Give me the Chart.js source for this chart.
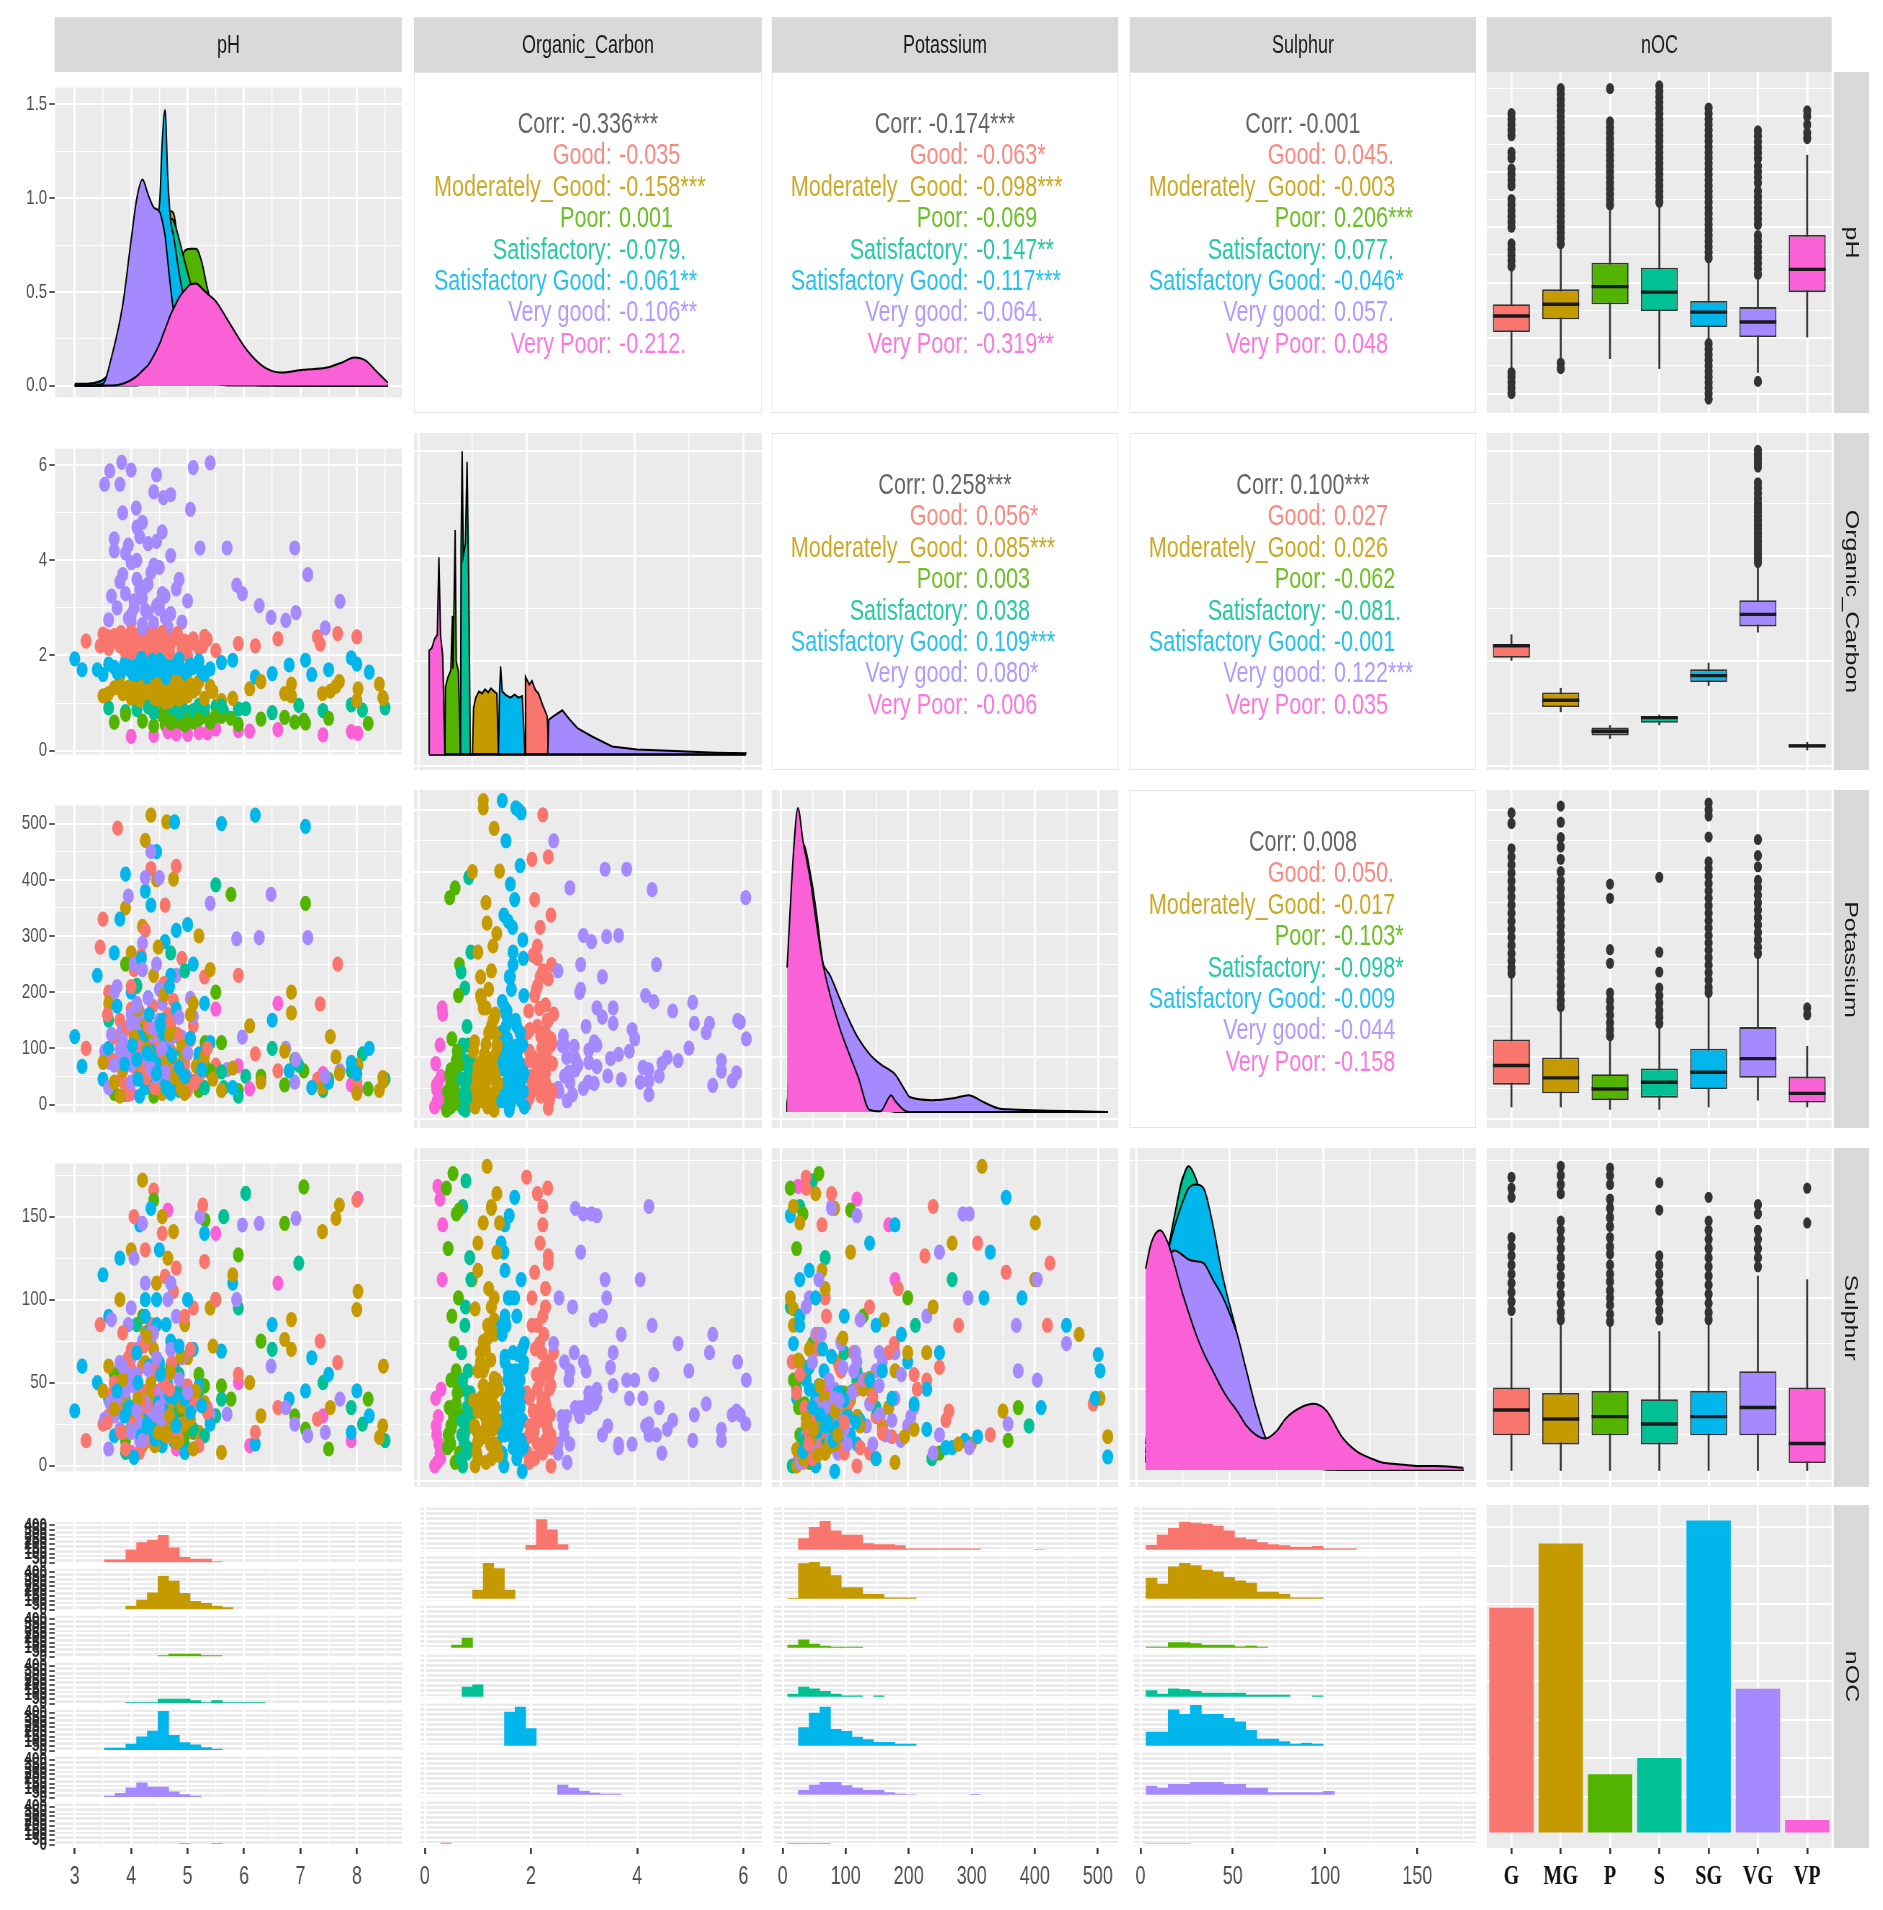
<!DOCTYPE html>
<html>
<head>
<meta charset="utf-8">
<title>Soil nutrients pairs plot</title>
<script src="https://cdn.jsdelivr.net/npm/chart.js@4.4.1/dist/chart.umd.min.js"></script>
<style>
  html, body { margin: 0; padding: 0; background: #fff; width: 1883px; height: 1910px; overflow: hidden; }
  #page { position: absolute; left: 0; top: 0; width: 2616px; height: 1910px; transform: scaleX(0.72); transform-origin: 0 0; font-family: "Liberation Sans", Arial, sans-serif; }
  .cell { position: absolute; }
  .strip { background: #D9D9D9; color: #1A1A1A; font-size: 25px; display: flex; align-items: center; justify-content: center; }
  .strip span { white-space: nowrap; display: inline-block; }
  .rstrip span { transform: rotate(90deg); }
  .corr { background: #fff; border: 1.5px solid #E4E4E4; box-sizing: border-box; font-size: 30px; }
  .cline { position: absolute; left: 0; width: 100%; height: 32px; line-height: 32px; white-space: pre; }
  .cline span { position: absolute; top: 0; }
</style>
</head>
<body>
<div id="page"></div>
<script>
const GROUPS = ['Good', 'Moderately_Good', 'Poor', 'Satisfactory', 'Satisfactory Good', 'Very good', 'Very Poor'];
const GROUP_ABBR = ['G', 'MG', 'P', 'S', 'SG', 'VG', 'VP'];
const COLORS = ['#F8766D', '#C49A00', '#53B400', '#00C094', '#00B6EB', '#A58AFF', '#FB61D7'];
const VARS = ['pH', 'Organic_Carbon', 'Potassium', 'Sulphur', 'nOC'];

// correlation text: overall first, then one per group
const CORR_PH_OC = ['-0.336***', '-0.035', '-0.158***', '0.001', '-0.079.', '-0.061**', '-0.106**', '-0.212.'];
const CORR_PH_K = ['-0.174***', '-0.063*', '-0.098***', '-0.069', '-0.147**', '-0.117***', '-0.064.', '-0.319**'];
const CORR_PH_S = ['-0.001', '0.045.', '-0.003', '0.206***', '0.077.', '-0.046*', '0.057.', '0.048'];
const CORR_OC_K = ['0.258***', '0.056*', '0.085***', '0.003', '0.038', '0.109***', '0.080*', '-0.006'];
const CORR_OC_S = ['0.100***', '0.027', '0.026', '-0.062', '-0.081.', '-0.001', '0.122***', '0.035'];
const CORR_K_S = ['0.008', '0.050.', '-0.017', '-0.103*', '-0.098*', '-0.009', '-0.044', '-0.158'];

// samples: [pH, Organic_Carbon, Potassium, Sulphur]
const OBS_G = [
  [4.4,2.3,88,40],[4.1,2.1,60,28],[4.6,2.45,130,52],[3.8,2.2,150,35],[4.3,2.35,75,22],[4.5,2.05,110,45],[4.2,2.4,95,60],[3.6,2.15,200,30],[4.7,2.25,55,18],[4.0,2.5,170,70],
  [3.76,2.3,492,42],[4.35,2.1,420,85],[3.5,2.45,330,25],[4.9,2.2,260,33],[5.1,2.35,140,95],[4.4,2.0,40,166],[5.3,2.4,227,123],[5.9,2.25,230,55],[3.2,2.3,100,15],[4.6,2.15,355,114],
  [4.8,2.4,424,119],[4.25,2.25,310,130],[5.5,2.1,70,100],[6.6,2.35,60,35],[7.3,2.39,45,28],[7.66,2.46,250,62],[7.35,2.24,179,75],[8.0,2.39,40,160],[6.2,2.2,90,20],[3.9,2.05,35,10],
  [4.55,2.3,65,140],[4.15,2.45,120,8],[5.0,2.0,25,48],[3.45,2.2,280,85],[4.75,2.35,185,105],[3.95,2.4,18,65],[5.2,2.15,50,12],[4.05,2.3,240,150],[5.27,2.2,80,157],
  [4.45,2.12,100,38],[4.2,2.28,70,45],[4.65,2.38,160,30],[3.7,2.42,120,50],[4.9,2.08,45,25],[4.0,2.18,210,58],[4.55,2.48,90,20],[3.85,2.32,60,80],[4.3,2.02,140,15],[5.05,2.28,115,70],
  [4.48,2.22,82,33],[4.12,2.36,105,41],[4.62,2.14,64,27],[3.92,2.26,135,55],[4.28,2.44,48,36],[4.72,2.32,92,62],[4.38,2.04,175,24],[3.68,2.34,78,44],[4.82,2.46,125,18],[4.22,2.16,58,72],
  [5.12,2.26,38,40],[4.02,2.06,95,30],[4.58,2.2,215,50],[3.58,2.4,160,26],[4.42,2.42,30,58],[4.95,2.3,72,90],[4.18,2.12,265,38],[3.82,2.48,44,20],[4.68,2.06,145,46],[5.35,2.34,100,32]
];
const OBS_MG = [
  [4.6,1.25,67,34],[4.3,1.1,45,22],[4.9,1.4,100,48],[4.5,1.3,80,30],[4.7,1.05,35,18],[4.4,1.45,120,55],[4.8,1.2,60,40],[4.2,1.35,150,12],[5.0,1.15,90,65],[4.1,1.3,210,28],
  [4.63,1.2,503,45],[4.25,1.4,470,80],[4.45,1.0,400,110],[3.9,1.25,350,38],[5.2,1.45,300,20],[4.2,1.27,317,172],[4.0,1.1,270,130],[5.4,1.35,240,95],[3.6,1.2,180,60],[4.75,1.5,401,141],
  [5.6,1.05,25,8],[6.1,1.3,140,50],[6.84,1.15,200,70],[6.84,1.4,163,88],[7.53,1.25,121,35],[8.47,1.1,41,60],[7.69,1.45,55,157],[7.39,1.2,30,141],[7.63,1.35,85,149],[8.02,1.3,70,105],
  [8.0,1.05,20,94],[8.46,1.12,48,24],[8.4,1.4,25,17],[6.72,1.2,95,76],[6.3,1.45,40,30],[5.8,1.1,65,115],[4.35,1.2,515,24],[3.8,1.4,15,100],[4.55,1.35,20,150],[5.1,1.25,180,10],
  [4.65,1.45,110,125],[3.5,1.15,75,45],
  [4.5,1.18,55,26],[4.7,1.32,95,38],[4.35,1.48,130,50],[4.85,1.08,70,15],[4.25,1.22,40,62],[5.05,1.38,160,28],[4.6,1.02,110,44],[3.95,1.33,85,20],[4.4,1.15,230,70],[4.95,1.28,20,85],
  [4.52,1.26,62,31],[4.78,1.12,48,22],[4.32,1.36,88,42],[4.62,1.44,75,18],[4.9,1.22,105,36],[4.15,1.06,52,28],[4.7,1.4,140,56],[4.42,1.1,35,12],[5.15,1.3,68,45],[4.05,1.46,120,33],
  [4.58,1.16,195,24],[4.88,1.34,28,66],[4.28,1.28,98,78],[4.8,1.48,58,14],[5.3,1.1,85,38],[3.85,1.2,62,52],[4.68,1.04,125,30],[4.48,1.38,280,20],[5.45,1.24,45,72],[4.12,1.42,170,40],
  [4.95,1.14,90,25],[3.7,1.32,40,34]
];
const OBS_P = [
  [4.9,0.65,49,35],[4.6,0.55,30,25],[5.3,0.72,70,48],[5.1,0.6,40,20],[4.7,0.7,95,60],[5.77,0.68,374,40],[7.09,0.58,358,22],[7.06,0.64,60,168],[5.31,0.75,110,148],[5.9,0.55,25,127],
  [6.72,0.7,35,146],[4.2,0.62,130,90],[3.7,0.6,20,55],[6.3,0.66,50,75],[8.2,0.57,28,40],[5.5,0.74,200,100],[4.4,0.52,15,160],[7.5,0.68,45,10],[3.9,0.76,250,15],[6.9,0.6,80,30],
  [4.85,0.62,55,30],[5.05,0.7,38,42],[4.7,0.58,72,22],[5.2,0.66,25,55],[4.55,0.74,88,36],[5.4,0.6,60,28],[4.95,0.54,45,18],[5.6,0.72,110,48]
];
const OBS_S = [
  [4.8,0.9,60,31],[4.5,0.85,40,20],[5.2,0.95,82,45],[5.0,0.8,35,25],[4.3,0.92,120,60],[6.03,0.88,50,164],[5.64,0.82,30,150],[6.97,0.95,70,122],[3.6,0.9,150,40],[4.1,0.86,212,85],
  [5.5,0.93,391,30],[7.4,0.84,25,50],[8.5,0.9,45,15],[6.5,0.8,100,70],[4.7,0.97,270,110],[3.9,0.82,18,8],[7.9,0.96,60,35],[5.9,0.87,15,95],[4.95,0.79,238,12],[8.1,0.85,90,25],
  [4.75,0.88,52,28],[4.6,0.93,75,38],[5.1,0.84,40,22],[4.9,0.96,95,48],[4.4,0.8,65,33],[5.3,0.9,30,18],[4.85,0.82,120,55],[5.6,0.94,58,40]
];
const OBS_SG = [
  [4.5,1.72,76,35],[4.2,1.6,50,25],[4.65,1.85,114,49],[4.4,1.75,90,40],[4.3,1.9,65,20],[4.55,1.65,130,55],[4.1,1.8,160,30],[4.75,1.55,40,15],[4.0,1.95,200,65],[4.85,1.7,25,45],
  [4.77,1.8,503,60],[4.45,1.62,450,85],[3.9,1.88,410,40],[4.25,1.7,380,100],[3.8,1.58,330,125],[4.6,1.93,290,22],[5.1,1.75,250,70],[5.3,1.6,180,140],[3.6,1.82,100,90],[3.4,1.7,230,50],
  [7.09,1.9,495,45],[8.22,1.65,100,30],[3.0,1.93,121,33],[3.13,1.7,68,60],[4.35,1.78,355,155],[5.6,1.85,500,69],[6.2,1.55,515,13],[6.8,1.8,60,40],[7.5,1.7,40,55],[7.9,1.95,75,20],
  [6.5,1.62,150,85],[5.8,1.9,30,110],[4.15,1.68,15,145],[4.95,1.58,55,8],[3.7,1.75,270,18],[4.5,1.53,140,130],[4.05,1.92,85,5],[5.0,1.66,320,100],[4.7,1.96,20,75],[3.5,1.6,45,115],
  [5.4,1.72,110,25],[7.2,1.6,30,65],[8.0,1.82,55,45],[4.3,1.55,190,80],
  [4.35,1.64,95,30],[4.6,1.76,60,52],[4.15,1.86,120,20],[4.8,1.62,170,40],[4.5,1.94,45,62],[3.95,1.72,75,35],[4.7,1.68,230,28],[4.25,1.6,30,90],[4.55,1.82,150,12],[5.2,1.88,90,48],
  [4.48,1.7,70,38],[4.22,1.78,58,27],[4.62,1.62,100,44],[4.38,1.9,82,22],[4.58,1.58,125,33],[4.12,1.74,45,50],[4.72,1.84,88,29],[4.32,1.66,160,60],[4.42,1.86,35,16],[4.68,1.72,210,42],
  [4.02,1.62,105,35],[4.85,1.92,66,72],[4.28,1.56,92,25],[4.52,1.88,140,55],[3.88,1.8,72,30],[4.95,1.68,50,40],[4.18,1.94,260,18],[4.62,1.54,30,85],[5.05,1.8,118,32],[3.75,1.64,175,45],
  [4.45,1.78,55,100],[4.8,1.74,310,24],[4.1,1.6,80,68],[5.25,1.66,62,36]
];
const OBS_VG = [
  [4.3,2.9,98,40],[4.0,2.7,70,25],[4.5,3.1,150,60],[4.2,2.65,120,35],[3.9,3.3,85,50],[4.6,2.8,60,20],[4.1,3.6,180,70],[4.4,3.9,110,45],[3.7,4.2,200,30],[4.8,3.4,230,90],
  [4.15,4.5,90,15],[3.83,6.06,130,55],[3.62,5.88,75,38],[4.0,5.9,160,65],[3.53,5.6,95,28],[4.4,5.44,55,80],[4.57,5.32,140,42],[5.05,5.07,189,22],[4.09,5.1,155,36],[5.22,4.26,80,150],
  [5.7,4.26,62,31],[6.9,4.26,40,25],[7.13,3.7,297,18],[7.7,3.14,60,40],[5.87,3.48,295,100],[5.97,3.3,120,145],[6.48,2.8,374,60],[6.74,2.74,100,35],[7.44,2.58,50,20],[6.27,3.05,297,146],
  [6.92,2.9,80,149],[4.35,2.5,450,75],[4.25,3.45,404,110],[4.5,3.85,404,55],[3.95,4.32,371,85],[5.4,6.05,358,31],[4.7,5.38,155,70],[5.1,5.95,157,36],[4.45,5.8,62,36],[3.8,5.6,78,22],
  [4.2,3.2,287,146],[3.6,2.75,30,10],[4.05,3.0,250,125],[4.65,2.6,45,100],
  [4.3,3.5,70,30],[4.1,4.0,130,55],[3.85,3.7,105,20],[4.55,3.3,180,45],[4.2,4.8,95,75],[4.7,4.1,60,110],[3.75,3.0,210,40],[4.9,2.7,120,65],[4.0,2.85,40,95],[4.45,4.4,250,25],
  [4.25,2.95,88,38],[4.05,3.15,112,48],[4.4,2.68,135,30],[3.95,2.78,76,55],[4.6,3.25,58,42],[4.15,3.4,165,25],[3.8,3.55,98,62],[4.5,2.98,205,35],[4.35,3.75,64,80],[4.0,3.95,145,20],
  [4.7,2.88,118,70],[3.9,4.15,84,45],[4.3,4.35,190,58],[4.55,4.6,100,28],[3.7,4.45,70,40],[4.85,3.6,155,52],[4.2,2.58,240,15],[3.65,3.25,125,88],[4.45,3.05,50,65],[4.1,4.7,175,33],
  [5.0,3.15,92,44],[3.85,5.0,115,60]
];
const OBS_VP = [
  [5.2,0.38,42,20],[4.8,0.35,30,10],[5.9,0.42,69,50],[4.0,0.3,20,8],[4.65,0.4,120,154],[8.02,0.36,27,161],[6.6,0.44,180,110],[7.4,0.33,55,30],[5.5,0.45,170,140],[4.4,0.32,90,45],[7.9,0.4,35,15],
  [5.0,0.34,48,25],[6.1,0.41,28,12],[5.35,0.37,60,35]
];
const OBS = [OBS_G, OBS_MG, OBS_P, OBS_S, OBS_SG, OBS_VG, OBS_VP];

// diagonal densities (row order G, MG, P, S, SG, VG, VP)
const PH_DENS_X = [3.0,3.25,3.5,3.65,3.85,4.0,4.1,4.2,4.3,4.4,4.5,4.55,4.6,4.65,4.7,4.75,4.85,4.95,5.05,5.15,5.25,5.35,5.5,5.75,6.05,6.35,6.65,7.05,7.45,7.75,7.95,8.15,8.35,8.55];
const PH_DENS = [
  [0,0.01,0.03,0.07,0.18,0.32,0.45,0.6,0.74,0.85,0.9,0.9,0.88,0.84,0.78,0.7,0.56,0.44,0.35,0.27,0.2,0.15,0.1,0.05,0.02,0.01,0,0,0,0,0,0,0,0],
  [0,0,0,0.02,0.08,0.18,0.28,0.4,0.52,0.65,0.78,0.84,0.88,0.91,0.93,0.92,0.72,0.6,0.48,0.38,0.3,0.22,0.15,0.08,0.04,0.02,0.01,0,0,0,0,0,0,0],
  [0,0,0,0,0,0,0,0.01,0.02,0.05,0.12,0.17,0.22,0.3,0.4,0.5,0.62,0.72,0.73,0.73,0.66,0.52,0.35,0.15,0.05,0.02,0.01,0.01,0,0,0,0,0,0],
  [0,0,0,0.02,0.08,0.15,0.22,0.3,0.4,0.52,0.65,0.72,0.8,0.86,0.89,0.88,0.78,0.66,0.55,0.45,0.36,0.28,0.2,0.12,0.08,0.04,0.02,0.01,0,0,0,0,0,0],
  [0.01,0.01,0.03,0.08,0.2,0.35,0.48,0.62,0.75,0.88,0.96,1.3,1.47,1.1,0.88,0.8,0.6,0.45,0.35,0.27,0.2,0.14,0.08,0.03,0.01,0,0,0,0,0,0,0,0,0],
  [0,0,0.01,0.15,0.43,0.78,1.0,1.1,1.02,0.95,0.93,0.88,0.8,0.66,0.52,0.4,0.25,0.15,0.09,0.05,0.03,0.02,0.01,0,0,0,0,0,0,0,0,0,0,0],
  [0,0,0,0,0.01,0.03,0.05,0.08,0.11,0.16,0.22,0.26,0.3,0.34,0.38,0.41,0.47,0.51,0.54,0.545,0.52,0.49,0.45,0.33,0.19,0.1,0.07,0.085,0.095,0.125,0.15,0.135,0.075,0.015]
];
const OC_BASE = 0.22;
const OC_DENS_ENDS = [0.2, 6.05];
const OC_DENS = [
  [[1.97,0.22],[1.98,1.7],[2.05,1.55],[2.1,1.62],[2.16,1.45],[2.22,1.38],[2.3,1.15],[2.38,0.95],[2.41,0.22]],
  [[1.0,0.22],[1.02,1.1],[1.06,1.3],[1.12,1.42],[1.18,1.38],[1.23,1.46],[1.29,1.4],[1.34,1.48],[1.4,1.42],[1.45,1.38],[1.48,0.22]],
  [[0.49,0.22],[0.5,1.5],[0.55,1.7],[0.6,1.82],[0.63,2.86],[0.64,1.85],[0.68,4.5],[0.7,2.0],[0.74,1.8],[0.78,0.22]],
  [[0.78,0.22],[0.79,4.2],[0.81,6.0],[0.83,4.0],[0.87,4.25],[0.9,5.8],[0.93,3.6],[0.96,0.22]],
  [[1.48,0.22],[1.5,1.4],[1.52,1.9],[1.55,1.42],[1.62,1.35],[1.7,1.3],[1.78,1.36],[1.85,1.3],[1.92,1.33],[1.97,0.22]],
  [[2.39,0.22],[2.41,0.88],[2.5,0.95],[2.66,1.06],[2.8,0.88],[2.94,0.72],[3.21,0.56],[3.58,0.37],[4.04,0.31],[4.86,0.28],[5.5,0.25],[6.05,0.24]],
  [[0.2,2.2],[0.25,2.25],[0.3,2.42],[0.35,2.5],[0.38,3.98],[0.41,2.5],[0.45,2.1],[0.49,0.22]]
];
const K_BASE = 12;
const K_DENS_X = [10,20,27,35,47,56,65,78,93,110,122,140,157,174,180,197,203,238,272,296,319,342,365,420,470,515];
const K_DENS = [
  [12,220,400,420,370,300,240,190,140,100,80,55,40,30,25,18,16,14,13,13,12,12,12,12,12,12],
  [12,230,410,410,350,280,220,170,120,85,60,35,25,18,16,14,13,12,12,12,12,12,12,12,12,12],
  [12,260,430,380,300,230,170,120,80,50,35,20,15,13,12,12,12,12,12,12,12,12,12,12,12,12],
  [12,250,420,400,330,260,200,150,105,70,50,25,20,15,14,13,12,12,12,12,12,12,12,12,12,12],
  [12,250,420,445,395,335,262,200,150,110,85,60,45,35,30,20,18,15,13,12,12,12,12,12,12,12],
  [12,200,380,420,370,300,255,232,195,155,131,105,89,78,73,45,36,31,34,39,28,18,16,14,13,12],
  [245,430,503,450,384,318,258,200,147,100,68,15,13,39,30,13,12,12,12,12,12,12,12,12,12,12]
];
const S_BASE = 6;
const S_DENS_X = [5,8,12.8,17,20.5,24,28,32,36,41,46,49,54,59,64,69,75,80,88,95,102,110,118,126,131,140,150,160,175];
const S_DENS = [
  [12,45,95,120,135,145,150,148,140,120,100,85,70,50,35,20,14,11,9,8,7,7,6,6,6,6,6,6,6],
  [15,55,105,125,135,140,142,138,130,115,95,80,65,45,30,18,13,11,9,8,7,6,6,6,6,6,6,6,6],
  [10,35,85,122,142,163,170,160,140,118,95,80,62,42,28,18,12,9,8,7,6,6,6,6,6,6,6,6,6],
  [10,40,90,125,145,162,172,165,150,125,100,85,65,45,30,20,14,10,8,7,7,6,6,6,6,6,6,6,6],
  [15,50,100,125,139,150,160,162,160,140,113,100,80,55,35,20,12,10,9,8,7,7,7,6,6,6,6,6,6],
  [20,60,100,120,126,124,121,120,119,110,101,94,80,60,40,24,15,12,10,9,8,8,7,7,7,6,6,6,6],
  [116,130,137,130,118,105,92,80,70,60,50,45,38,30,25,23,27,34,40,42,38,24,16,12,10,9,8,8,7]
];

// boxplots: [lower whisker, q1, median, q3, upper whisker] and outliers per group
const BOX_PH = [[3.45,4.11,4.40,4.61,5.25],[3.63,4.34,4.61,4.88,5.65],[3.63,4.61,4.93,5.36,6.3],[3.45,4.49,4.83,5.27,6.37],[3.97,4.20,4.47,4.67,5.4],[3.38,4.02,4.29,4.56,5.05],[4.02,4.83,5.24,5.86,7.3]];
const OUT_PH = [
  [8.05,7.95,7.85,7.75,7.65,7.35,7.25,7.05,6.95,6.85,6.75,6.5,6.4,6.3,6.2,6.1,6.0,5.7,5.6,5.5,5.4,5.3,3.38,3.3,3.2,3.1,3.0],
  [8.5,8.4,8.3,8.2,8.1,8.0,7.9,7.8,7.7,7.6,7.5,7.4,7.3,7.2,7.1,7.0,6.9,6.8,6.7,6.6,6.5,6.4,6.3,6.2,6.1,6.0,5.9,5.8,5.7,3.55,3.45],
  [8.5,7.9,7.8,7.7,7.6,7.5,7.4,7.3,7.2,7.1,7.0,6.9,6.8,6.7,6.6,6.5,6.4],
  [8.55,8.45,8.35,8.25,8.15,8.05,7.95,7.85,7.75,7.65,7.55,7.45,7.35,7.25,7.15,7.05,6.95,6.85,6.75,6.65,6.55,6.45],
  [8.15,8.05,7.95,7.85,7.75,7.65,7.55,7.45,7.35,7.25,7.15,7.05,6.95,6.85,6.75,6.65,6.55,6.45,6.35,6.25,6.15,6.05,5.95,5.85,5.75,5.65,5.55,5.45,3.9,3.8,3.7,3.6,3.5,3.4,3.3,3.2,3.1,3.0,2.9],
  [7.74,7.64,7.54,7.44,7.34,7.24,7.1,7.0,6.9,6.8,6.65,6.55,6.45,6.35,6.25,6.15,6.05,5.85,5.75,5.65,5.55,5.45,5.35,5.25,5.15,3.22],
  [8.1,8.0,7.85,7.7,7.6]
];
const BOX_OC = [[2.01,2.06,2.29,2.31,2.5],[1.03,1.12,1.25,1.40,1.48],[0.52,0.58,0.66,0.73,0.77],[0.78,0.82,0.92,0.95,0.97],[1.53,1.60,1.72,1.84,1.96],[2.55,2.66,2.89,3.16,3.83],[0.30,0.35,0.38,0.41,0.45]];
const OUT_OC = [[],[],[],[],[],[3.88,3.96,4.04,4.12,4.2,4.28,4.36,4.44,4.52,4.6,4.68,4.76,4.84,4.92,5.0,5.1,5.2,5.3,5.4,5.7,5.78,5.86,5.94,6.02],[]];
const BOX_K = [[20,56,87,129,231],[20,42,67,100,176],[16,31,49,73,129],[16,35,60,82,147],[20,49,76,114,201],[31,67,98,149,263],[20,27,42,69,118]];
const OUT_K = [
  [495,478,437,424,411,398,385,372,359,346,333,320,307,294,281,268,256,245,236],
  [506,480,455,440,420,400,385,372,360,348,336,324,312,300,288,276,264,252,240,228,216,204,192,182],
  [380,357,274,252,204,192,180,168,156,145,135],
  [391,270,238,212,200,188,176,165,155],
  [511,500,490,456,416,405,393,381,369,357,345,333,321,309,297,285,273,261,249,237,225,213,205],
  [452,426,408,386,374,362,350,338,326,314,302,290,278,268],
  [180,169]
];
const BOX_S = [[5.5,24.8,38.6,50.9,89],[5.5,19.8,33.7,48,86],[5.5,24.8,35,49,86],[5.5,19.8,31,44.5,81.6],[5.5,24.8,35,49,86],[5.5,24.8,40,59.8,112],[5.5,9.6,20.3,50.9,110]];
const OUT_S = [
  [166,160,155,133,128,123,118,113,108,103,98,93],
  [172,167,162,157,142,137,132,127,122,117,112,107,102,97,92,88],
  [171,167,162,154,149,144,139,133,128,124,118,113,109,104,100,96,91,87],
  [163,148,123,118,113,108,103,98,93,88],
  [155,142,137,132,127,122,117,112,107,102,97,92,88],
  [151,146,137,132,127,122,117],
  [160,141]
];

// faceted histograms: [bin centre, count]
const HIST_PH = [
  [[3.62,34],[3.81,34],[4.0,139],[4.19,218],[4.38,244],[4.57,294],[4.76,160],[4.95,59],[5.14,42],[5.33,42],[5.52,13]],
  [[4.0,42],[4.19,105],[4.38,181],[4.57,357],[4.76,307],[4.95,176],[5.14,92],[5.33,71],[5.52,42],[5.71,25]],
  [[4.57,13],[4.76,29],[4.95,29],[5.14,29],[5.33,13],[5.52,13]],
  [[4.0,13],[4.19,13],[4.38,13],[4.57,50],[4.76,50],[4.95,50],[5.14,34],[5.33,13],[5.52,34],[5.71,13],[5.9,13],[6.09,13],[6.28,13]],
  [[3.62,29],[3.81,29],[4.0,71],[4.19,147],[4.38,210],[4.57,420],[4.76,164],[4.95,88],[5.14,63],[5.33,34],[5.52,17]],
  [[3.62,17],[3.81,46],[4.0,105],[4.19,157],[4.38,113],[4.57,113],[4.76,63],[4.95,34],[5.14,17]],
  [[4.95,10],[5.52,10]]
];
const HIST_OC = [
  [[2.0,53],[2.2,315],[2.4,210],[2.6,59]],
  [[1.0,97],[1.2,368],[1.4,315],[1.6,97]],
  [[0.6,34],[0.8,105]],
  [[0.8,105],[1.0,130]],
  [[1.6,350],[1.8,403],[2.0,182]],
  [[2.6,105],[2.8,76],[3.0,46],[3.2,25],[3.4,13],[3.6,13]],
  [[0.4,15]]
];
const HIST_K = [
  [[33.5,122],[50.5,235],[67.5,298],[84.5,200],[101.5,158],[118.5,158],[135.5,71],[152.5,60],[169.5,60],[186.5,50],[203.5,17],[220.5,17],[237.5,17],[254.5,17],[271.5,17],[288.5,17],[305.5,17],[407.5,10]],
  [[16.5,8],[33.5,365],[50.5,378],[67.5,332],[84.5,245],[101.5,122],[118.5,122],[135.5,53],[152.5,53],[169.5,17],[186.5,17],[203.5,17]],
  [[16.5,34],[33.5,88],[50.5,46],[67.5,25],[84.5,13],[101.5,13],[118.5,13]],
  [[16.5,34],[33.5,105],[50.5,88],[67.5,63],[84.5,34],[101.5,17],[118.5,17],[152.5,17]],
  [[33.5,193],[50.5,340],[67.5,403],[84.5,176],[101.5,155],[118.5,97],[135.5,71],[152.5,42],[169.5,42],[186.5,25],[203.5,25]],
  [[33.5,53],[50.5,105],[67.5,134],[84.5,134],[101.5,100],[118.5,76],[135.5,53],[152.5,53],[169.5,29],[186.5,13],[203.5,10],[305.5,8]],
  [[16.5,8],[33.5,8],[50.5,8],[67.5,8]]
];
const HIST_S = [
  [[6,53],[12,158],[18,227],[24,290],[30,280],[36,269],[42,250],[48,200],[54,130],[60,110],[66,80],[72,59],[78,50],[84,34],[90,34],[96,42],[102,17],[108,17],[114,17]],
  [[6,218],[12,158],[18,332],[24,368],[30,345],[36,300],[42,281],[48,227],[54,190],[60,168],[66,76],[72,76],[78,53],[84,17],[90,17],[96,17]],
  [[6,13],[12,13],[18,59],[24,59],[30,50],[36,34],[42,34],[48,34],[54,17],[60,25],[66,13]],
  [[6,71],[12,34],[18,88],[24,80],[30,63],[36,46],[42,46],[48,46],[54,46],[60,25],[66,25],[72,25],[78,25],[96,17]],
  [[6,147],[12,147],[18,374],[24,328],[30,420],[36,328],[42,328],[48,287],[54,252],[60,164],[66,76],[72,76],[78,50],[84,25],[90,34],[96,25]],
  [[6,97],[12,76],[18,113],[24,113],[30,134],[36,134],[42,134],[48,113],[54,113],[60,76],[66,76],[72,29],[78,29],[84,29],[90,29],[96,29],[102,42]],
  [[6,10],[12,10],[18,10],[24,10]]
];

const BAR_COUNTS = [1052, 1353, 272, 348, 1460, 673, 58];
const BAR_GRID = [168, 348, 528, 708, 888, 1068, 1248, 1428];
const SUB_TICKS = [0, 50, 100, 150, 200, 250, 300, 350, 400];

// axis ranges and breaks
const AX = {
  pH: {min: 2.65, max: 8.8, major: [3, 4, 5, 6, 7, 8], minor: [3.5, 4.5, 5.5, 6.5, 7.5, 8.5], fmt: v => String(v)},
  OC: {min: -0.08, max: 6.35, major: [0, 2, 4, 6], minor: [1, 3, 5], fmt: v => String(v)},
  K: {min: -14, max: 532, major: [0, 100, 200, 300, 400, 500], minor: [50, 150, 250, 350, 450], fmt: v => String(v)},
  S: {min: -3.5, max: 182, major: [0, 50, 100, 150], minor: [25, 75, 125, 175], fmt: v => String(v)},
  dens: {min: -0.063, max: 1.59, major: [0, 0.5, 1, 1.5], minor: [0.25, 0.75, 1.25], fmt: v => v.toFixed(1)},
  bar: {min: -73, max: 1533, major: BAR_GRID, minor: [], fmt: v => ''},
  sub: {min: -36, max: 464, major: SUB_TICKS, minor: [], fmt: v => String(v)}
};
const KEYS = ['pH', 'OC', 'K', 'S'];

// layout (screen px of the final picture)
const SX = 0.72;
const COL_X = [[55, 402], [414, 762], [772, 1118], [1130, 1476], [1487, 1832]];
const ROW_Y = [[72, 413], [433, 770], [790, 1128], [1148, 1487], [1505, 1848]];
const LEFT_W = 55, BOTTOM_H = 57;
const BG = '#EBEBEB';

Chart.defaults.font.family = '"Liberation Sans", Arial, sans-serif';
Chart.defaults.color = '#4D4D4D';
Chart.defaults.animation = false;
Chart.defaults.events = [];
Chart.defaults.responsive = true;
Chart.defaults.maintainAspectRatio = false;
Chart.defaults.layout.autoPadding = false;
Chart.defaults.plugins.legend.display = false;
Chart.defaults.plugins.tooltip.enabled = false;

Chart.register({
  id: 'panelBg',
  defaults: {color: null, sub: false, gap: 2.5},
  beforeDraw(chart, args, o) {
    if (!o.color) return;
    const ctx = chart.ctx, a = chart.chartArea;
    ctx.save();
    ctx.fillStyle = o.color;
    if (o.sub) {
      Object.values(chart.scales).forEach(s => {
        if (s.axis === 'y') ctx.fillRect(a.left, s.top + o.gap, a.width, s.height - 2 * o.gap);
      });
    } else {
      ctx.fillRect(a.left, a.top, a.width, a.height);
    }
    ctx.restore();
  }
});

const page = document.getElementById('page');

function place(left, top, w, h, cls) {
  const d = document.createElement('div');
  d.className = 'cell' + (cls ? ' ' + cls : '');
  d.style.left = (left / SX) + 'px';
  d.style.top = top + 'px';
  d.style.width = (w / SX) + 'px';
  d.style.height = h + 'px';
  page.appendChild(d);
  return d;
}

function panelCanvas(r, c) {
  const x0 = c === 0 ? 0 : COL_X[c][0];
  const y1 = r === 4 ? ROW_Y[r][1] + BOTTOM_H : ROW_Y[r][1];
  const d = place(x0, ROW_Y[r][0], COL_X[c][1] - x0, y1 - ROW_Y[r][0]);
  const cv = document.createElement('canvas');
  d.appendChild(cv);
  return cv;
}

function linAxis(a, vertical, labels, size, dense) {
  const vals = a.major.concat(a.minor).sort((p, q) => p - q);
  const isMajor = v => a.major.indexOf(v) >= 0;
  return {
    type: 'linear', min: a.min, max: a.max, offset: false,
    afterBuildTicks: s => { s.ticks = vals.map(v => ({value: v})); },
    afterFit: s => {
      if (vertical) s.width = labels ? LEFT_W / SX : 0;
      else s.height = labels ? BOTTOM_H : 0;
    },
    border: {display: false},
    grid: {
      offset: false,
      color: '#FFFFFF',
      lineWidth: ctx => ((ctx.tick && isMajor(ctx.tick.value)) ? 2 : 1) * (vertical ? 1 : 1.4),
      drawTicks: labels,
      tickLength: vertical ? 8 : 6,
      tickColor: ctx => (dense || (ctx.tick && isMajor(ctx.tick.value))) ? '#333333' : 'rgba(0,0,0,0)',
      tickWidth: vertical ? 1.6 : 2.6
    },
    ticks: {
      display: labels, autoSkip: false, maxRotation: 0,
      padding: vertical ? 3 : 8,
      color: dense ? '#2A2A2A' : '#4D4D4D',
      font: {size: size, weight: dense ? 'bold' : 'normal'},
      callback: v => isMajor(v) ? a.fmt(v) : ''
    }
  };
}

function catAxis(labels) {
  return {
    type: 'category', offset: true,
    afterFit: s => { s.height = labels ? BOTTOM_H : 0; },
    border: {display: false},
    grid: {offset: false, color: '#FFFFFF', lineWidth: 2.8, drawTicks: labels, tickLength: 6, tickColor: '#333333', tickWidth: 2.6},
    ticks: {
      display: labels, autoSkip: false, maxRotation: 0, padding: 6, color: '#111111',
      font: {family: '"Liberation Serif", "Times New Roman", serif', weight: 'bold', size: 28}
    }
  };
}

function xAxis(c, lx) { return c === 4 ? catAxis(lx) : linAxis(AX[KEYS[c]], false, lx, 25); }
function yAxis(r, c, ly) { return linAxis(r === 0 && c === 0 ? AX.dens : AX[KEYS[r]], true, ly, 21); }

function densChart(cv, r, lx, ly) {
  const datasets = GROUPS.map((g, i) => {
    let data, base;
    if (r === 0) { data = PH_DENS_X.map((x, j) => ({x: x, y: PH_DENS[i][j]})); base = 0; }
    else if (r === 1) {
      data = [{x: OC_DENS_ENDS[0], y: OC_BASE}].concat(OC_DENS[i].map(p => ({x: p[0], y: p[1]})), [{x: OC_DENS_ENDS[1], y: OC_BASE}]);
      base = OC_BASE;
    }
    else if (r === 2) { data = K_DENS_X.map((x, j) => ({x: x, y: K_DENS[i][j]})); base = K_BASE; }
    else { data = S_DENS_X.map((x, j) => ({x: x, y: S_DENS[i][j]})); base = S_BASE; }
    return {
      data: data, backgroundColor: COLORS[i], borderColor: '#000000', borderWidth: 2,
      pointRadius: 0, fill: {value: base}, order: 7 - i,
      tension: 0, cubicInterpolationMode: r === 1 ? 'default' : 'monotone'
    };
  });
  new Chart(cv, {
    type: 'line', data: {datasets: datasets},
    options: {scales: {x: xAxis(r, lx), y: yAxis(r, r, ly)}, plugins: {panelBg: {color: BG}}}
  });
}

function scatterChart(cv, r, c, lx, ly) {
  const pts = [], cols = [];
  const n = Math.max.apply(null, OBS.map(o => o.length));
  for (let i = 0; i < n; i++) {
    OBS.forEach((rows, g) => {
      if (rows[i]) { pts.push({x: rows[i][c], y: rows[i][r]}); cols.push(COLORS[g]); }
    });
  }
  new Chart(cv, {
    type: 'scatter',
    data: {datasets: [{data: pts, pointRadius: 7.6, pointBorderWidth: 0, pointBackgroundColor: cols}]},
    options: {scales: {x: xAxis(c, lx), y: yAxis(r, c, ly)}, plugins: {panelBg: {color: BG}}}
  });
}

function boxChart(cv, r, lx, ly) {
  const box = [BOX_PH, BOX_OC, BOX_K, BOX_S][r];
  const out = [OUT_PH, OUT_OC, OUT_K, OUT_S][r];
  const outPts = [];
  out.forEach((vals, g) => vals.forEach(v => outPts.push({x: GROUP_ABBR[g], y: v})));
  const halfBox = ctx => { const s = ctx.chart.scales.x; return s ? s.width / 7 * 0.375 : 20; };
  new Chart(cv, {
    type: 'bar',
    data: {
      labels: GROUP_ABBR,
      datasets: [
        {type: 'line', data: box.map((b, i) => ({x: GROUP_ABBR[i], y: b[2]})), showLine: false, pointStyle: 'line',
         pointRadius: halfBox, pointBorderWidth: 3.4, pointBorderColor: '#1A1A1A', order: 0},
        {type: 'line', data: outPts, showLine: false, pointRadius: 5.6, pointBorderWidth: 0, pointBackgroundColor: '#333333', order: 1},
        {data: box.map(b => [b[1], b[3]]), backgroundColor: COLORS, borderColor: '#333333', borderWidth: 1.8,
         borderSkipped: false, barPercentage: 0.75, categoryPercentage: 1, grouped: false, order: 2},
        {data: box.map(b => [b[0], b[4]]), backgroundColor: '#333333', barThickness: 2, grouped: false, order: 3}
      ]
    },
    options: {scales: {x: catAxis(lx), y: yAxis(r, 4, ly)}, plugins: {panelBg: {color: BG}}}
  });
}

function barChart(cv, lx, ly) {
  new Chart(cv, {
    type: 'bar',
    data: {labels: GROUP_ABBR, datasets: [{data: BAR_COUNTS, backgroundColor: COLORS, barPercentage: 0.9, categoryPercentage: 1}]},
    options: {scales: {x: catAxis(lx), y: linAxis(AX.bar, true, false, 20)}, plugins: {panelBg: {color: BG}}}
  });
}

function histChart(cv, c, lx, ly) {
  const hist = [HIST_PH, HIST_OC, HIST_K, HIST_S][c];
  const scales = {x: linAxis(AX[KEYS[c]], false, lx, 25)};
  for (let g = 6; g >= 0; g--) {
    scales['y' + g] = Object.assign(linAxis(AX.sub, true, ly, 19, true), {stack: 'facet', stackWeight: 1, position: 'left'});
  }
  const datasets = hist.map((bins, g) => ({
    data: bins.map(b => ({x: b[0], y: b[1]})), yAxisID: 'y' + g,
    backgroundColor: COLORS[g], barPercentage: 1, categoryPercentage: 1, grouped: false
  }));
  new Chart(cv, {
    type: 'bar', data: {datasets: datasets},
    options: {scales: scales, plugins: {panelBg: {color: BG, sub: true, gap: 2.5}}}
  });
}

function corrPanel(r, c) {
  const vals = {'01': CORR_PH_OC, '02': CORR_PH_K, '03': CORR_PH_S, '12': CORR_OC_K, '13': CORR_OC_S, '23': CORR_K_S}['' + r + c];
  const x0 = COL_X[c][0], w = COL_X[c][1] - x0, y0 = ROW_Y[r][0], h = ROW_Y[r][1] - y0;
  const d = place(x0, y0, w, h, 'corr');
  const W = w / SX, colon = W * 0.57;
  for (let i = 0; i < 8; i++) {
    const ln = document.createElement('div');
    ln.className = 'cline';
    ln.style.top = (50 - 16 + i * 31.4) + 'px';
    if (i === 0) {
      ln.textContent = 'Corr: ' + vals[0];
      ln.style.textAlign = 'center';
      ln.style.color = '#666666';
    } else {
      const nm = document.createElement('span');
      nm.textContent = GROUPS[i - 1] + ':';
      nm.style.right = (W - colon) + 'px';
      const vl = document.createElement('span');
      vl.textContent = ' ' + vals[i];
      vl.style.left = colon + 'px';
      nm.style.color = vl.style.color = COLORS[i - 1];
      nm.style.opacity = vl.style.opacity = 0.85;
      ln.appendChild(nm);
      ln.appendChild(vl);
    }
    d.appendChild(ln);
  }
}

// strips
VARS.forEach((v, c) => {
  const s = place(COL_X[c][0], 17, COL_X[c][1] - COL_X[c][0], 55, 'strip');
  s.innerHTML = '<span></span>';
  s.firstChild.textContent = v;
});
VARS.forEach((v, r) => {
  const s = place(1834, ROW_Y[r][0], 35, ROW_Y[r][1] - ROW_Y[r][0], 'strip rstrip');
  s.innerHTML = '<span></span>';
  s.firstChild.textContent = v;
});

// panels
for (let r = 0; r < 5; r++) {
  for (let c = 0; c < 5; c++) {
    if (c > r && c < 4) { corrPanel(r, c); continue; }
    const cv = panelCanvas(r, c);
    const lx = r === 4, ly = c === 0;
    if (r === c) { if (r < 4) densChart(cv, r, lx, ly); else barChart(cv, lx, ly); }
    else if (c === 4) boxChart(cv, r, lx, ly);
    else if (r === 4) histChart(cv, c, lx, ly);
    else scatterChart(cv, r, c, lx, ly);
  }
}
</script>
</body>
</html>
